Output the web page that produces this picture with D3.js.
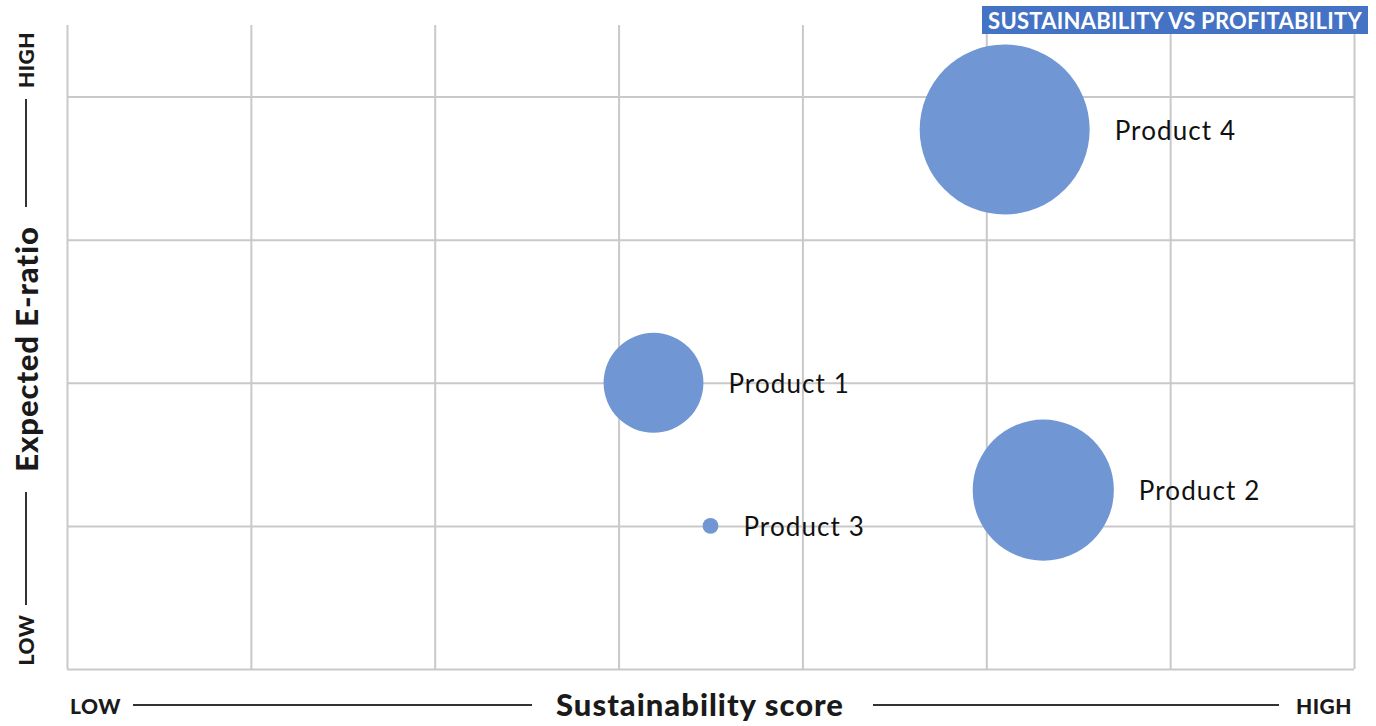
<!DOCTYPE html>
<html>
<head>
<meta charset="utf-8">
<script src="https://cdn.jsdelivr.net/npm/d3@7"></script>
<style>
  html, body { margin: 0; padding: 0; background: #fff; }
  svg { display: block; font-family: Lato, "Open Sans", sans-serif; }
</style>
</head>
<body>
<svg id="chart" width="1376" height="726"></svg>
<script>
// Bubble chart: sustainability score (x) vs expected E-ratio (y), bubble area = size
const products = ["Product 1", "Product 2", "Product 3", "Product 4"];
const sustainability = [3.19, 5.31, 3.50, 5.10];
const eRatio = [2.0, 1.25, 1.0, 3.77];
const sizeValues = [10, 20, 0.25, 29];
const xTicks = [0, 1, 2, 3, 4, 5, 6, 7];
const yTicks = [0, 1, 2, 3, 4];
const titleText = "SUSTAINABILITY VS PROFITABILITY";
const xAxisTitle = "Sustainability score";
const yAxisTitle = "Expected E-ratio";
const lowLabel = "LOW";
const highLabel = "HIGH";

const svg = d3.select("#chart");
const plot = { left: 67, right: 1354, top: 25, bottom: 669 };

const x = d3.scaleLinear().domain([0, 7]).range([plot.left, plot.right]);
const y = d3.scaleLinear().domain([0, 4.5]).range([plot.bottom, plot.top]);
const r = d3.scaleSqrt().domain([0, d3.max(sizeValues)]).range([0, 85]);

const gridColor = "#c9c9c9";

// vertical gridlines
svg.append("g").call(
  d3.axisBottom(x).tickValues(xTicks).tickSize(-(plot.bottom - plot.top)).tickFormat("")
).attr("transform", `translate(0,${plot.bottom})`)
 .call(g => g.select(".domain").remove())
 .call(g => g.selectAll(".tick line").attr("stroke", gridColor).attr("stroke-width", 2));

// horizontal gridlines
svg.append("g").call(
  d3.axisLeft(y).tickValues(yTicks).tickSize(-(plot.right - plot.left)).tickFormat("")
).attr("transform", `translate(${plot.left},0)`)
 .call(g => g.select(".domain").remove())
 .call(g => g.selectAll(".tick line").attr("stroke", gridColor).attr("stroke-width", 2));

// bubbles
const data = products.map((p, i) => ({ name: p, x: sustainability[i], y: eRatio[i], s: sizeValues[i] }));
svg.append("g").selectAll("circle").data(data).join("circle")
  .attr("cx", d => x(d.x))
  .attr("cy", d => y(d.y))
  .attr("r", d => r(d.s))
  .attr("fill", "#7096d4");

svg.append("g").selectAll("text").data(data).join("text")
  .attr("x", d => x(d.x) + r(d.s) + 25)
  .attr("y", d => y(d.y) + 1)
  .attr("dy", "0.35em")
  .attr("font-size", 26)
  .attr("letter-spacing", 1.1)
  .attr("fill", "#111")
  .text(d => d.name);

// title box
const tg = svg.append("g");
tg.append("rect").attr("x", 982).attr("y", 6).attr("width", 386).attr("height", 28).attr("fill", "#4472c4");
tg.append("text").attr("x", 1175).attr("y", 21).attr("dy", "0.35em")
  .attr("text-anchor", "middle").attr("font-size", 22).attr("font-weight", 700)
  .attr("letter-spacing", 0.25)
  .attr("fill", "#fff").text(titleText);

// x axis caption
const ink = "#1a1a1a";
svg.append("text").attr("x", 70).attr("y", 707).attr("dy", "0.35em")
  .attr("font-size", 21).attr("font-weight", 900).attr("letter-spacing", 0.5).attr("fill", ink).text(lowLabel);
svg.append("text").attr("x", 1352).attr("y", 707).attr("dy", "0.35em").attr("text-anchor", "end")
  .attr("font-size", 21).attr("font-weight", 900).attr("letter-spacing", 0.5).attr("fill", ink).text(highLabel);
svg.append("text").attr("x", 700).attr("y", 705).attr("dy", "0.35em").attr("text-anchor", "middle")
  .attr("font-size", 31).attr("font-weight", 900).attr("letter-spacing", 1).attr("fill", ink).text(xAxisTitle);
svg.append("line").attr("x1", 133).attr("x2", 532).attr("y1", 705).attr("y2", 705)
  .attr("stroke", "#333").attr("stroke-width", 2);
svg.append("line").attr("x1", 873).attr("x2", 1279).attr("y1", 705).attr("y2", 705)
  .attr("stroke", "#333").attr("stroke-width", 2);

// y axis caption
const yc = 27;
function vText(cy, str, size, ls) {
  svg.append("text").attr("transform", `translate(${yc},${cy}) rotate(-90)`)
    .attr("dy", "0.35em").attr("text-anchor", "middle")
    .attr("font-size", size).attr("font-weight", 900).attr("letter-spacing", ls)
    .attr("fill", ink).text(str);
}
vText(60, highLabel, 21, 0.5);
vText(640, lowLabel, 21, 0.5);
vText(349, yAxisTitle, 31, 0.9);
svg.append("line").attr("x1", yc - 1).attr("x2", yc - 1).attr("y1", 99).attr("y2", 207)
  .attr("stroke", "#333").attr("stroke-width", 2);
svg.append("line").attr("x1", yc - 1).attr("x2", yc - 1).attr("y1", 492).attr("y2", 605)
  .attr("stroke", "#333").attr("stroke-width", 2);
</script>
</body>
</html>
